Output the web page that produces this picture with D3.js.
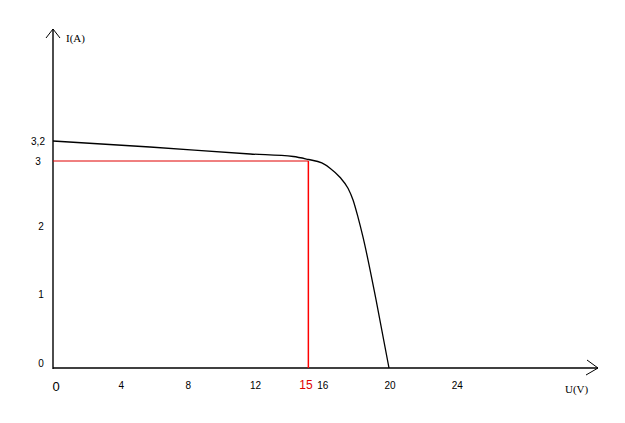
<!DOCTYPE html>
<html><head><meta charset="utf-8">
<script src="https://cdn.jsdelivr.net/npm/d3@7"></script>
<style>body{margin:0;background:#fff}svg{display:block}</style>
</head><body>
<script>
// Data
const voltage = [0, 5.77, 11.73, 14.3, 15.2, 16.0, 16.49, 17.08, 17.56, 17.86, 18.15, 18.45, 19.23, 20];
const current = [3.2, 3.14, 3.07, 3.045, 3.015, 2.97, 2.89, 2.75, 2.58, 2.40, 2.14, 1.84, 0.92, 0];
const xTickValues = [4, 8, 12, 16, 20, 24];
const yTickValues = [0, 1, 2, 3, 3.2];
const yTickLabels = ["0", "1", "2", "3", "3,2"];
const mppVoltage = 15.2, mppCurrent = 3.0, mppLabel = "15";
const xLabel = "U(V)", yLabel = "I(A)";

const W = 625, H = 423;
const svg = d3.select("body").append("svg").attr("width", W).attr("height", H);

const x = d3.scaleLinear().domain([0, 20]).range([53, 389]);
// hand-drawn sketch: uneven vertical spacing, kept with a piecewise scale
const y = d3.scaleLinear().domain([0, 1, 2, 3, 3.2]).range([368, 294, 226, 161, 141]);

const x0 = x(0), y0 = y(0);
const xEnd = 598, yTop = 29;

// axes
svg.append("line").attr("x1", x0).attr("y1", y0).attr("x2", xEnd).attr("y2", y0)
  .attr("stroke", "#000").attr("stroke-width", 1.4);
svg.append("line").attr("x1", x0).attr("y1", y0 + 1).attr("x2", x0).attr("y2", yTop)
  .attr("stroke", "#000").attr("stroke-width", 1.4);
// arrowheads
svg.append("path").attr("d", `M${xEnd-11},${y0-8} L${xEnd},${y0} L${xEnd-12},${y0+7}`)
  .attr("fill", "none").attr("stroke", "#000").attr("stroke-width", 1);
svg.append("path").attr("d", `M${x0-7},${yTop+9} L${x0},${yTop} L${x0+7},${yTop+9}`)
  .attr("fill", "none").attr("stroke", "#000").attr("stroke-width", 1);

// axis titles
svg.append("text").attr("x", 66).attr("y", 42).text(yLabel)
  .attr("font-family", "Liberation Serif").attr("font-size", 11);
svg.append("text").attr("x", 565).attr("y", 393).text(xLabel)
  .attr("font-family", "Liberation Serif").attr("font-size", 11);

// x tick labels
const tickFont = "Liberation Sans";
svg.selectAll("text.xt").data(xTickValues).enter().append("text")
  .attr("class", "xt").attr("x", d => x(d) + 1).attr("y", 389)
  .attr("text-anchor", "middle").attr("font-family", tickFont).attr("font-size", 10)
  .text(d => d);
svg.append("text").attr("x", x(0) + 3).attr("y", 391).attr("text-anchor", "middle")
  .attr("font-family", tickFont).attr("font-size", 13).text("0");
svg.append("text").attr("x", x(15) + 1).attr("y", 389).attr("text-anchor", "middle")
  .attr("font-family", tickFont).attr("font-size", 12).attr("fill", "#e00000").text(mppLabel);

// y tick labels
svg.selectAll("text.yt").data(yTickValues).enter().append("text")
  .attr("class", "yt").attr("x", (d, i) => i >= 3 ? 38 : 41)
  .attr("y", d => (d === 0 ? y(d) - 5 : y(d)) + 4)
  .attr("text-anchor", "middle").attr("font-family", tickFont).attr("font-size", 10)
  .text((d, i) => yTickLabels[i]);

// max-power-point guide lines (red)
svg.append("line").attr("x1", x0).attr("x2", x(mppVoltage))
  .attr("y1", y(mppCurrent)).attr("y2", y(mppCurrent))
  .attr("stroke", "#e00000").attr("stroke-width", 1);
svg.append("line").attr("x1", x(mppVoltage)).attr("x2", x(mppVoltage))
  .attr("y1", y(mppCurrent)).attr("y2", y0)
  .attr("stroke", "#ff0000").attr("stroke-width", 1.5);

// I-U curve
const pts = voltage.map((v, i) => [v, current[i]]);
const line = d3.line().x(d => x(d[0])).y(d => y(d[1])).curve(d3.curveMonotoneX);
svg.append("path").attr("d", line(pts)).attr("fill", "none")
  .attr("stroke", "#000").attr("stroke-width", 1.3);
</script>
</body></html>
